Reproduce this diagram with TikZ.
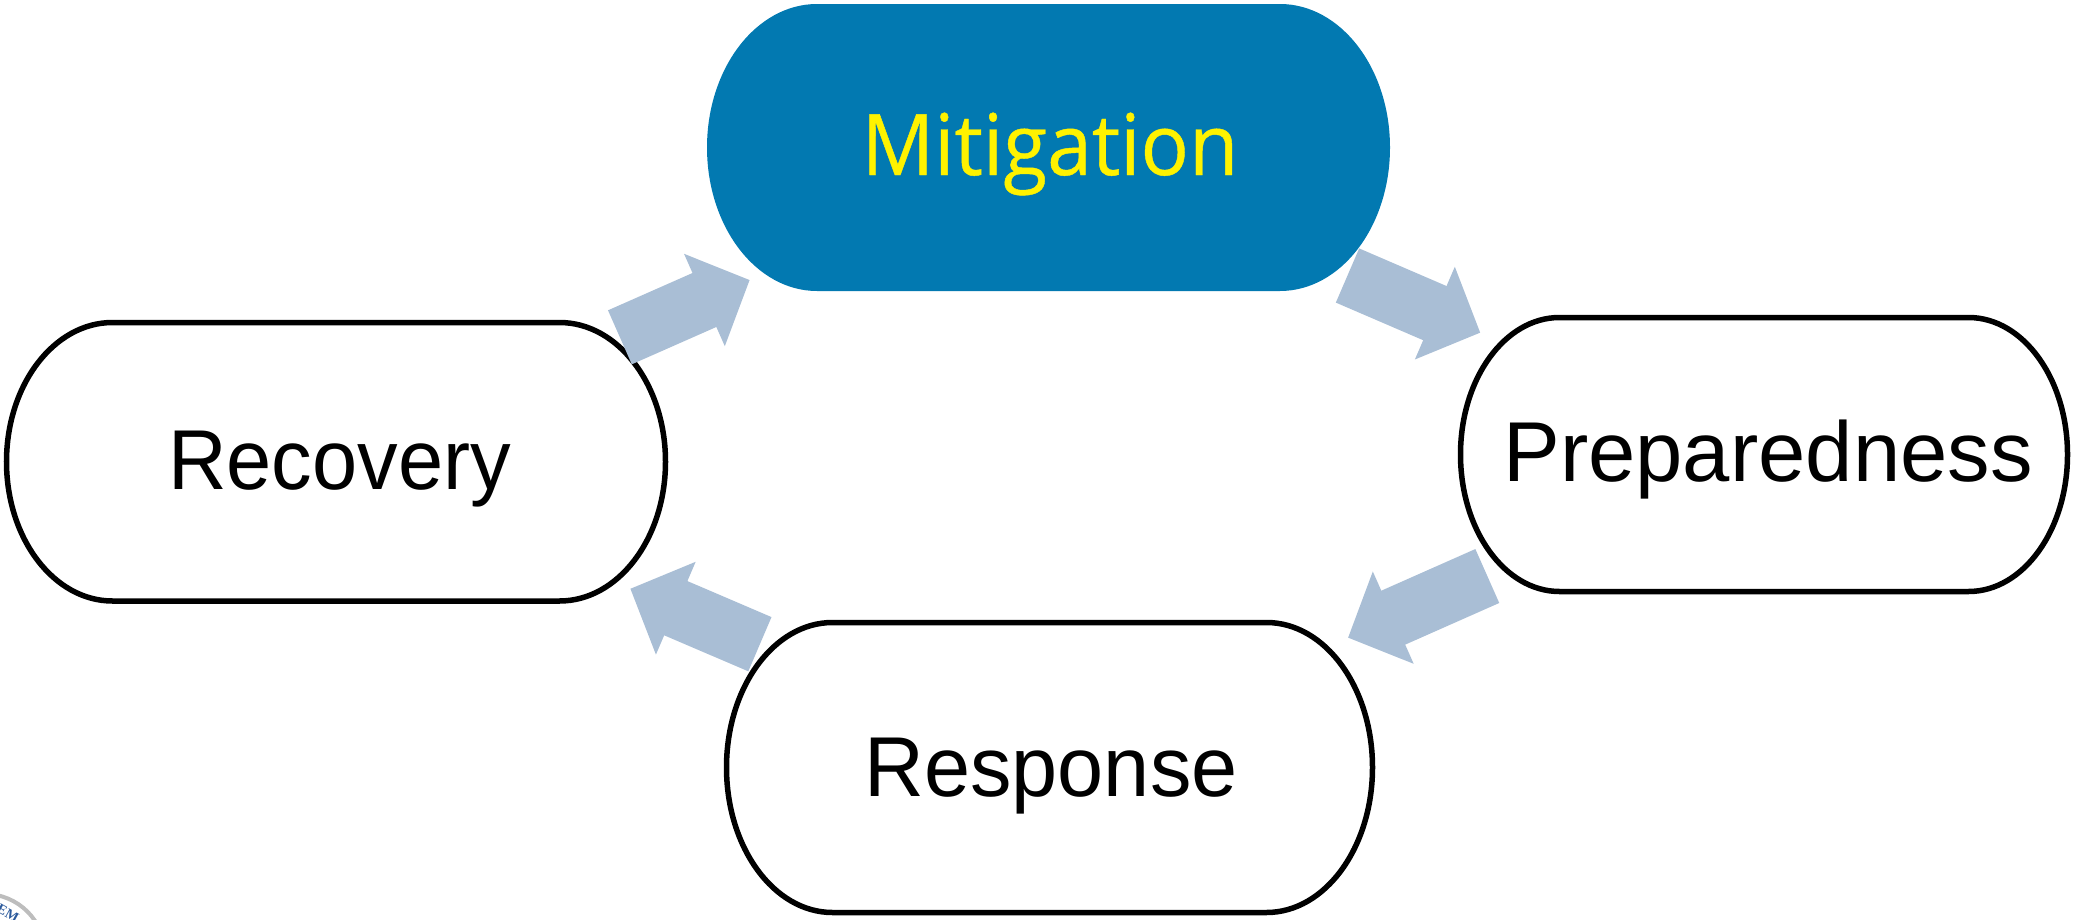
\documentclass[tikz,border=0pt]{standalone}
\usepackage{fontspec}
\setmainfont{Liberation Sans}
\newfontfamily\mitfont[FakeStretch=0.945,FakeBold=0.5]{Open Sans}
\newfontfamily\sealfont{Liberation Serif}
\usetikzlibrary{arrows.meta}
\definecolor{blueFill}{HTML}{0279B1}
\definecolor{arrowBlue}{HTML}{A9BED5}
\definecolor{sealBlue}{HTML}{2C5A9C}
\definecolor{sealGray}{HTML}{BDBDBD}
\tikzset{
  x=1pt,y=-1pt,
  pill/.style={draw=black,line width=5.5pt,fill=white},
  pillblue/.style={fill=blueFill},
  label/.style={font=\fontsize{85}{85}\selectfont,inner sep=0pt,anchor=base},
  mitlabel/.style={font=\mitfont\fontsize{85}{85}\selectfont,inner sep=0pt,anchor=base,text=yellow},
  blockarrow/.style={line width=59pt,draw=arrowBlue,-{Triangle[length=49.5pt,width=98pt,fill=arrowBlue]}},
}
% #1 style, #2 x0, #3 y0, #4 x1, #5 y1, #6 rx  (elliptical ends, drawn as Bezier quarter arcs)
\newcommand{\pillshape}[6]{%
  \path[#1] ({#2+#6},#3) -- ({#4-#6},#3)
    .. controls ({#4-#6+0.5523*#6},#3) and (#4,{(#3+#5)/2-0.5523*(#5-#3)/2}) .. (#4,{(#3+#5)/2})
    .. controls (#4,{(#3+#5)/2+0.5523*(#5-#3)/2}) and ({#4-#6+0.5523*#6},#5) .. ({#4-#6},#5)
    -- ({#2+#6},#5)
    .. controls ({#2+#6-0.5523*#6},#5) and (#2,{(#3+#5)/2+0.5523*(#5-#3)/2}) .. (#2,{(#3+#5)/2})
    .. controls (#2,{(#3+#5)/2-0.5523*(#5-#3)/2}) and ({#2+#6-0.5523*#6},#3) .. ({#2+#6},#3) -- cycle;}
\begin{document}
\begin{tikzpicture}
\useasboundingbox (0,0) rectangle (2073,919);
% seal fragment
\begin{scope}
\clip (0,0) rectangle (2073,919);
\draw[line width=4pt,draw=sealGray] (-15,954) circle[radius=60];
\node[text=sealBlue,font=\sealfont\bfseries\fontsize{14}{14}\selectfont,rotate=-29,inner sep=0pt] (seal) at (8,913) {EM};
\end{scope}
\coordinate (a4s) at (759.9,644.2); \coordinate (a4t) at (630.3,588.7);
% pills
\pillshape{pill}{6.5}{322.5}{665.5}{601}{106}
\pillshape{pillblue}{707}{4}{1390}{291}{110}
\coordinate (a1s) at (619.9,337.3); \coordinate (a1t) at (749.7,280);
\draw[blockarrow] (a1s) -- (a1t);
\coordinate (a2s) at (1347.5,275.5); \coordinate (a2t) at (1480.3,332.7);
\draw[blockarrow] (a2s) -- (a2t);
\coordinate (a3s) at (1487.3,576); \coordinate (a3t) at (1348,637.7);
\draw[blockarrow] (a3s) -- (a3t);
\draw[blockarrow] (a4s) -- (a4t);
\pillshape{pill}{1460.5}{317.5}{2067.5}{591.5}{99}
\pillshape{pill}{726.5}{622.5}{1372.5}{912.5}{106}
\node[mitlabel] (mitigation) at (1050,175) {Mitigation};
\node[label,xscale=0.955] (recovery) at (339.5,489) {Recovery};
\node[label] (preparedness) at (1768,481) {Preparedness};
\node[label,xscale=0.975] (response) at (1051,796) {Response};
\end{tikzpicture}
\end{document}
